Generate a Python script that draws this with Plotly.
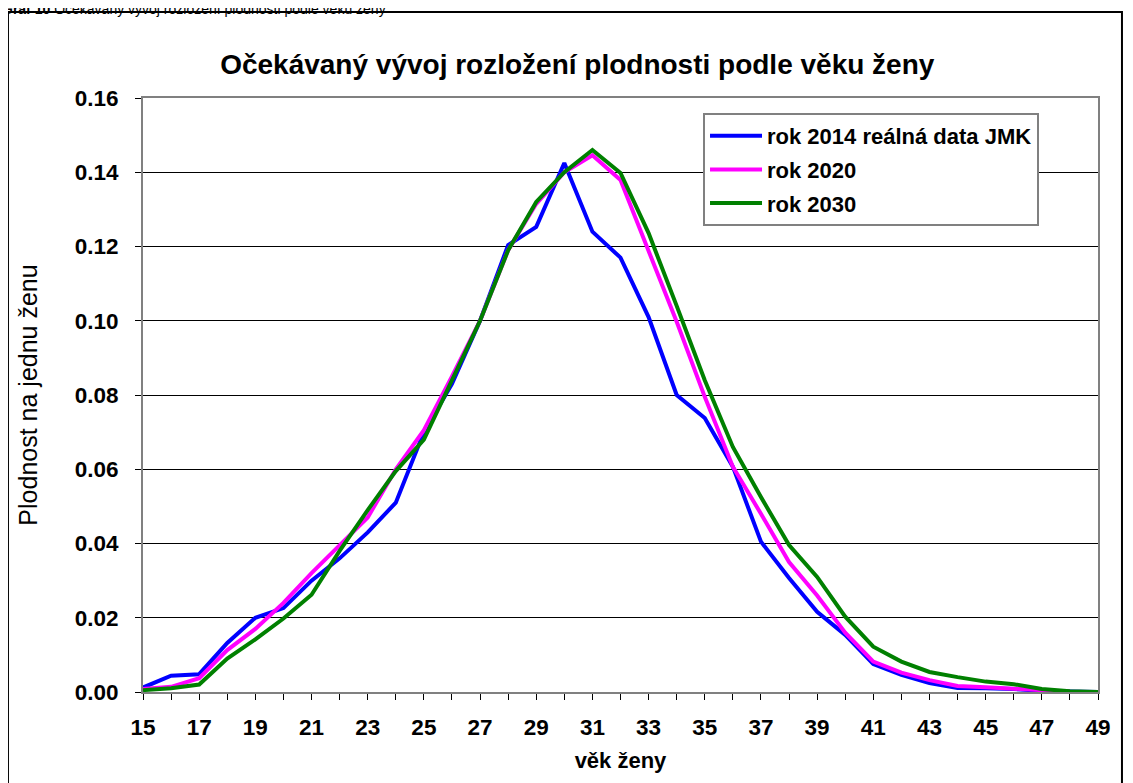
import plotly.graph_objects as go

# ── data ───────────────────────────────────────────────────────────────────
AGES = list(range(15, 50))

RATE_2014 = [0.0012, 0.0044, 0.0048, 0.0132, 0.0200, 0.0226, 0.0300, 0.0360, 0.0430,
             0.0510, 0.0700, 0.0830, 0.1000, 0.1204, 0.1253, 0.1425, 0.1240, 0.1170,
             0.1010, 0.0800, 0.0738, 0.0607, 0.0405, 0.0307, 0.0216, 0.0154, 0.0075,
             0.0046, 0.0024, 0.0011, 0.0010, 0.0008, 0.0003, 0.0001, 0.0000]

RATE_2020 = [0.0008, 0.0014, 0.0037, 0.0113, 0.0170, 0.0240, 0.0320, 0.0396, 0.0470,
             0.0600, 0.0705, 0.0850, 0.1000, 0.1190, 0.1315, 0.1400, 0.1446, 0.1379,
             0.1190, 0.0997, 0.0795, 0.0607, 0.0480, 0.0350, 0.0260, 0.0160, 0.0082,
             0.0052, 0.0032, 0.0016, 0.0013, 0.0009, 0.0004, 0.0001, 0.0000]

RATE_2030 = [0.0005, 0.0010, 0.0020, 0.0090, 0.0142, 0.0198, 0.0262, 0.0380, 0.0490,
             0.0595, 0.0680, 0.0840, 0.1000, 0.1190, 0.1320, 0.1400, 0.1460, 0.1398,
             0.1236, 0.1040, 0.0840, 0.0660, 0.0525, 0.0396, 0.0310, 0.0203, 0.0122,
             0.0082, 0.0054, 0.0040, 0.0028, 0.0021, 0.0008, 0.0002, 0.0000]

SERIES = [
    ("rok 2014 reálná data JMK", RATE_2014, "#0000FF"),
    ("rok 2020", RATE_2020, "#FF00FF"),
    ("rok 2030", RATE_2030, "#008000"),
]

TITLE = "Očekávaný vývoj rozložení plodnosti podle věku ženy"
CAPTION = "<b>Graf 10</b> Očekávaný vývoj rozložení plodnosti podle věku ženy"

FONT = "Liberation Sans, Arial, sans-serif"
AXIS_GREY = "#808080"
BOLD = dict(family=FONT, weight="bold", color="black")

fig = go.Figure()
for name, vals, color in SERIES:
    # one legend group per trace, so tracegroupgap spaces the rows out
    fig.add_trace(go.Scatter(x=AGES, y=vals, name=name, mode="lines",
                             legendgroup=name,
                             line=dict(color=color, width=4)))

# page body has an 8px margin, so the figure is sized to fit inside the window
fig.update_layout(
    width=1125, height=775,
    paper_bgcolor="white", plot_bgcolor="white",
    font=dict(family=FONT, color="black"),
    margin=dict(l=135, r=35, t=90, b=91),
    title=dict(text=f"<b>{TITLE}</b>", x=0.506, xanchor="center",
               y=0.927, yanchor="middle", font=dict(size=28)),
    showlegend=True,
    legend=dict(x=0.5864, y=0.9747, xanchor="left", yanchor="top",
                bgcolor="white", bordercolor=AXIS_GREY, borderwidth=2,
                font=dict(BOLD, size=22), itemwidth=52, tracegroupgap=2),
    xaxis=dict(range=[15, 49], tick0=15, dtick=2, showgrid=False,
               ticks="outside", ticklen=6, tickcolor="black",
               minor=dict(dtick=1, ticks="outside", ticklen=6, tickcolor="black"),
               showline=True, linecolor=AXIS_GREY, linewidth=2, mirror=True,
               tickfont=dict(BOLD, size=22.5), ticklabelstandoff=8,
               title=dict(text="<b>věk ženy</b>", font=dict(size=22), standoff=14),
               zeroline=False),
    yaxis=dict(range=[0, 0.16], dtick=0.02, tickformat=".2f",
               showgrid=True, gridcolor="black", gridwidth=1,
               ticks="outside", ticklen=6, tickcolor="black",
               showline=True, linecolor=AXIS_GREY, linewidth=2, mirror=True,
               tickfont=dict(BOLD, size=22.5), ticklabelstandoff=12,
               title=dict(text="Plodnost na jednu ženu", font=dict(size=25), standoff=30),
               zeroline=False),
    shapes=[dict(type="rect", xref="paper", yref="paper",
                 x0=-0.1414, x1=1.0251, y0=-0.2, y1=1.1448,
                 line=dict(color="black", width=2), layer="below")],
    annotations=[dict(text=CAPTION, xref="paper", yref="paper",
                      x=-0.1497, y=1.1330, xanchor="left", yanchor="bottom",
                      showarrow=False, font=dict(size=14))],
)

fig.write_html("out.html")
